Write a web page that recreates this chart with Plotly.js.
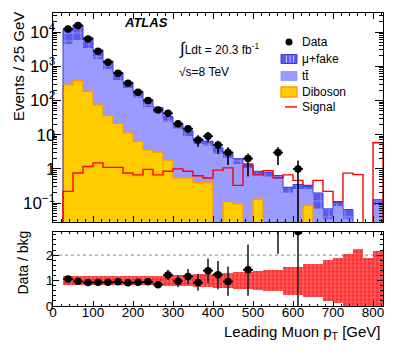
<!DOCTYPE html>
<html><head><meta charset="utf-8">
<script src="https://cdn.plot.ly/plotly-3.0.1.min.js"></script>
<style>html,body{margin:0;padding:0;background:#fff;}#chart{width:415px;height:356px;}</style>
</head><body><div id="chart"></div>
<script>
// ---- data (bins of 25 GeV, 25..825 GeV) ----
const binCenters = [37.5,62.5,87.5,112.5,137.5,162.5,187.5,212.5,237.5,262.5,287.5,312.5,337.5,362.5,387.5,412.5,437.5,462.5,487.5,512.5,537.5,562.5,587.5,612.5,637.5,662.5,687.5,712.5,737.5,762.5,787.5,812.5];
const binHalfWidth = 12.5;
const dataCounts = [12300,15500,6300,2750,1310,625,318,174,100,53,42,21,15,7,9,5,3,0,2,0,0,3,0,1,0,0,0,0,0,0,0,0];
const dataErrUp   = [111,124,79,52,36,25,18,13,10,7.3,6.5,4.6,3.9,2.6,3.0,1.6,1.3,0,0.8,0,0,1.3,0,0.75,0,0,0,0,0,0,0,0];
const dataErrDown = [111,124,79,52,36,25,18,13,10,7.3,6.5,4.6,3.9,2.6,3.0,2.3,1.7,0,1.4,0,0,1.7,0,1.0,0,0,0,0,0,0,0,0];
const diboson = [287,380,186,74,36,21,11.3,6.4,3.6,3.05,1.8,0.55,0.55,0.4,0.4,0,0.11,0.095,0,0.13,0,0,0,0,0.085,0,0,0,0,0,0,0];
const ttbar   = [4200,5400,3300,1600,775,380,213,113,61,39,21,13.8,8.6,5.0,4.2,2.8,2.0,1.3,1.05,0.52,0.57,0.5,0.2,0.25,0.17,0.068,0.035,0.08,0.035,0,0,0.09];
const muFake  = [7100,10200,3400,1320,610,260,120,67,40,21,11,7,4,2.2,1.9,1.3,1.0,0.6,0.36,0.2,0.23,0.14,0.09,0.1,0.05,0.13,0.033,0.026,0.03,0,0,0.036];
const signal  = [0.22,0.76,1.17,1.5,1.11,1.11,0.76,0.67,0.97,0.67,0.85,1.0,0.85,0.63,0.54,0.92,1.07,0.33,1.25,0.67,0.89,0.55,0.67,0.46,0.33,0.46,0.22,0.11,0.75,0.68,0,5.8];
const ratio        = [1.06,0.97,0.92,0.93,0.93,0.95,0.91,0.93,0.95,0.84,1.22,0.97,1.16,0.92,1.39,1.23,0.96,null,1.42,null,null,4.7,null,2.93,null,null,null,null,null,null,null,null];
const ratioErrUp   = [0.01,0.01,0.015,0.02,0.03,0.04,0.05,0.07,0.09,0.12,0.2,0.22,0.29,0.33,0.48,0.54,0.59,0,1.0,0,0,2.0,0,2.0,0,0,0,0,0,0,0,0];
const ratioErrDown = [0.01,0.01,0.015,0.02,0.03,0.04,0.05,0.07,0.09,0.12,0.2,0.22,0.3,0.32,0.48,0.57,0.56,0,1.02,0,0,2.65,0,2.93,0,0,0,0,0,0,0,0];
const bkgUncUp   = [0.18,0.18,0.18,0.18,0.18,0.18,0.18,0.18,0.18,0.18,0.2,0.2,0.22,0.24,0.26,0.28,0.3,0.32,0.34,0.36,0.4,0.42,0.55,0.55,0.64,0.64,0.82,0.9,1.03,1.25,0.88,1.15];
const bkgUncDown = [0.18,0.18,0.18,0.18,0.18,0.18,0.18,0.18,0.18,0.18,0.2,0.2,0.22,0.24,0.26,0.28,0.3,0.32,0.34,0.36,0.4,0.42,0.55,0.55,0.64,0.64,0.82,0.9,1.0,1.0,1.0,1.0];
const yTickVals = [0,1,2];

// ---- derived ----
const FLOOR = 1e-4;
const ttBase = diboson.map(v => Math.max(v, FLOOR));
const fakeBase = diboson.map((v,i) => Math.max(v + ttbar[i], FLOOR));
const total = diboson.map((v,i) => v + ttbar[i] + muFake[i]);
const binWidths = binCenters.map(() => 2*binHalfWidth);
function stepXY(vals){
  const n = vals.length;
  const xs = [binCenters[0]-binHalfWidth], ys = [FLOOR];
  vals.forEach((v,i) => { xs.push(binCenters[i]-binHalfWidth); ys.push(v>0 ? v : FLOOR); });
  xs.push(binCenters[n-1]+binHalfWidth); ys.push(vals[n-1]>0 ? vals[n-1] : FLOOR);
  xs.push(binCenters[n-1]+binHalfWidth); ys.push(FLOOR);
  return {xs, ys};
}
const dibStep = stepXY(diboson), totStep = stepXY(total), sigStep = stepXY(signal);
const dataY = dataCounts.map(v => v > 0 ? v : null);

const C_FAKE = '#5a5af0', C_TT = '#9a9aff', C_DIB = '#ffcc00', C_DIB_L = '#ff9a00', C_SIG = '#ff0000', C_BAND = '#ff2a2a';

const traces = [
  {type:'bar', x:binCenters, y:diboson, width:binWidths, xaxis:'x', yaxis:'y',
   marker:{color:C_DIB, line:{width:0}}},
  {type:'bar', x:binCenters, y:ttbar, base:ttBase, width:binWidths, xaxis:'x', yaxis:'y',
   marker:{color:C_TT, line:{width:0}}},
  {type:'bar', x:binCenters, y:muFake, base:fakeBase, width:binWidths, xaxis:'x', yaxis:'y',
   marker:{color:C_FAKE, line:{width:0}, pattern:{shape:'+', bgcolor:C_FAKE, fgcolor:'#c4c4ff', size:8, solidity:0.12}}},
  {type:'scatter', mode:'lines', x:dibStep.xs, y:dibStep.ys, xaxis:'x', yaxis:'y',
   line:{shape:'hv', color:C_DIB_L, width:1.3}},
  {type:'scatter', mode:'lines', x:totStep.xs, y:totStep.ys, xaxis:'x', yaxis:'y',
   line:{shape:'hv', color:'#3c3ce0', width:1}},
  {type:'scatter', mode:'lines', x:sigStep.xs, y:sigStep.ys, xaxis:'x', yaxis:'y',
   line:{shape:'hv', color:C_SIG, width:1.4}},
  {type:'scatter', mode:'markers', x:binCenters, y:dataY, xaxis:'x', yaxis:'y',
   marker:{color:'#000', size:7.5},
   error_y:{type:'data', symmetric:false, array:dataErrUp, arrayminus:dataErrDown, color:'#000', thickness:1.6, width:0},
   error_x:{type:'constant', value:binHalfWidth, color:'#000', thickness:1.6, width:0}},
  // ratio panel
  {type:'bar', x:binCenters, y:bkgUncUp.map((u,i)=>u+bkgUncDown[i]), base:bkgUncDown.map(d=>1-d), width:binWidths,
   xaxis:'x2', yaxis:'y2',
   marker:{color:C_BAND, line:{width:0}, pattern:{shape:'+', bgcolor:C_BAND, fgcolor:'#ff9a9a', size:4, solidity:0.25}}},
  {type:'scatter', mode:'markers', x:binCenters, y:ratio, xaxis:'x2', yaxis:'y2',
   marker:{color:'#000', size:7.5},
   error_y:{type:'data', symmetric:false, array:ratioErrUp, arrayminus:ratioErrDown, color:'#222', thickness:1.6, width:0},
   error_x:{type:'constant', value:binHalfWidth, color:'#000', thickness:1.6, width:0}}
];

const W = 415, H = 356;
const px = x => x / W, py = y => 1 - y / H;
const FONT = 'Liberation Sans, Arial, Helvetica, sans-serif';
const axCommon = {showline:true, linecolor:'#000', linewidth:1, mirror:'allticks', ticks:'inside', tickcolor:'#000',
  showgrid:false, zeroline:false, tickfont:{family:FONT, size:13.5, color:'#000'}};

const legendRows = [
  {label:'Data', y:42},
  {label:'\u03bc+fake', y:59},
  {label:'t\u0074\u0304', y:76},
  {label:'Diboson', y:92},
  {label:'Signal', y:107}
];

const annotations = [
  {text:'Events / 25 GeV', x:px(18.5), y:py(66.5), xref:'paper', yref:'paper', textangle:-90, showarrow:false,
   xanchor:'center', yanchor:'middle', font:{family:FONT, size:15, color:'#000'}},
  {text:'Data / bkg', x:px(22), y:py(262.5), xref:'paper', yref:'paper', textangle:-90, showarrow:false,
   xanchor:'center', yanchor:'middle', font:{family:FONT, size:14, color:'#000'}},
  {text:'Leading Muon p<sub>T</sub> [GeV]', x:px(383), y:py(332), xref:'paper', yref:'paper', showarrow:false,
   xanchor:'right', yanchor:'middle', font:{family:FONT, size:15, color:'#000'}},
  {text:'<b><i>ATLAS</i></b>', x:px(146), y:py(23), xref:'paper', yref:'paper', showarrow:false,
   xanchor:'center', yanchor:'middle', font:{family:FONT, size:13, color:'#000'}},
  {text:'<span style="font-size:17px">\u222b</span>Ldt = 20.3 fb<sup>-1</sup>', x:px(177), y:py(48), xref:'paper', yref:'paper', showarrow:false,
   xanchor:'left', yanchor:'middle', font:{family:FONT, size:12, color:'#000'}},
  {text:'\u221as=8 TeV', x:px(177), y:py(72), xref:'paper', yref:'paper', showarrow:false,
   xanchor:'left', yanchor:'middle', font:{family:FONT, size:12, color:'#000'}}
].concat(legendRows.map(r => ({text:r.label, x:px(300), y:py(r.y), xref:'paper', yref:'paper', showarrow:false,
   xanchor:'left', yanchor:'middle', font:{family:FONT, size:12, color:'#000'}})));

const shapes = [
  {type:'line', xref:'x2', yref:'y2', x0:0, x1:825, y0:2, y1:2, layer:'below', line:{color:'#888', width:1, dash:'dot'}},
  // legend keys
  {type:'circle', xref:'paper', yref:'paper', x0:px(285.5), x1:px(292.5), y0:py(38.5), y1:py(45.5), fillcolor:'#000', line:{width:0}},
  {type:'rect', xref:'paper', yref:'paper', x0:px(281), x1:px(297), y0:py(54.5), y1:py(63.5), fillcolor:C_FAKE, line:{color:'#3c3ce0', width:1}},
  {type:'line', xref:'paper', yref:'paper', x0:px(286.5), x1:px(286.5), y0:py(55.5), y1:py(62.5), line:{color:'#c4c4ff', width:1}},
  {type:'line', xref:'paper', yref:'paper', x0:px(290), x1:px(290), y0:py(55.5), y1:py(62.5), line:{color:'#c4c4ff', width:1}},
  {type:'line', xref:'paper', yref:'paper', x0:px(293.5), x1:px(293.5), y0:py(55.5), y1:py(62.5), line:{color:'#c4c4ff', width:1}},
  {type:'rect', xref:'paper', yref:'paper', x0:px(281), x1:px(297), y0:py(71.5), y1:py(80.5), fillcolor:C_TT, line:{color:C_TT, width:1}},
  {type:'rect', xref:'paper', yref:'paper', x0:px(281), x1:px(297), y0:py(87), y1:py(97), fillcolor:C_DIB, line:{color:C_DIB_L, width:1.3}},
  {type:'line', xref:'paper', yref:'paper', x0:px(285), x1:px(297), y0:py(107), y1:py(107), line:{color:C_SIG, width:1.4}}
];

const layout = {
  width:W, height:H, margin:{l:0,r:0,t:0,b:0}, paper_bgcolor:'#fff', plot_bgcolor:'#fff',
  showlegend:false, barmode:'overlay', bargap:0, hovermode:false,
  font:{family:FONT, size:13.5, color:'#000'},
  xaxis:Object.assign({}, axCommon, {domain:[px(53), px(383)], range:[0,825], anchor:'y', showticklabels:false,
    tick0:0, dtick:100, ticklen:6, minor:{dtick:20, ticks:'inside', ticklen:3, tickcolor:'#000', showgrid:false}}),
  yaxis:Object.assign({}, axCommon, {domain:[1-222/H, 1-13/H], type:'log', range:[Math.log10(0.028), Math.log10(36000)],
    anchor:'x', dtick:1, exponentformat:'power', ticklen:8, ticklabelstandoff:-6,
    minor:{dtick:'D1', ticks:'inside', ticklen:4, tickcolor:'#000', showgrid:false}}),
  xaxis2:Object.assign({}, axCommon, {domain:[px(53), px(383)], range:[0,825], anchor:'y2',
    tick0:0, dtick:100, ticklen:5, ticklabelstandoff:-6,
    minor:{dtick:20, ticks:'inside', ticklen:2.5, tickcolor:'#000', showgrid:false}}),
  yaxis2:Object.assign({}, axCommon, {domain:[1-306/H, 1-231.7/H], range:[0,2.92], anchor:'x2',
    tickmode:'array', tickvals:yTickVals, ticklen:6, ticklabelstandoff:-4,
    minor:{dtick:0.2, ticks:'inside', ticklen:3, tickcolor:'#000', showgrid:false}}),
  annotations:annotations, shapes:shapes
};

Plotly.newPlot('chart', traces, layout, {staticPlot:true, displayModeBar:false});
</script></body></html>
